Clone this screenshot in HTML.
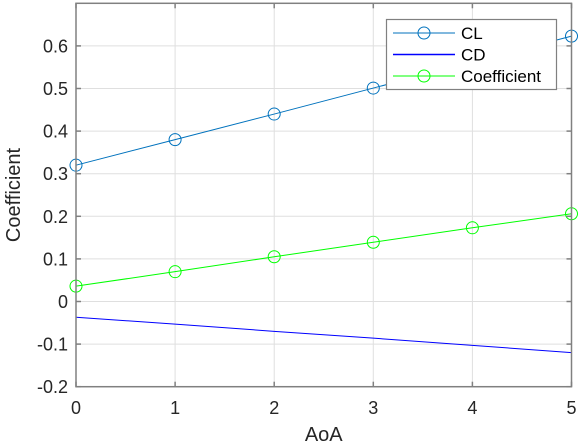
<!DOCTYPE html>
<html><head><meta charset="utf-8"><style>
html,body{margin:0;padding:0;background:#fff;}
svg{display:block;font-family:"Liberation Sans",Arial,sans-serif;}
</style></head><body>
<svg id="chart" width="580" height="443" viewBox="0 0 580 443"></svg>
<script>
const aoa = [0,1,2,3,4,5];
const clValues = [0.32,0.38,0.44,0.501,0.562,0.623];
const cdValues = [-0.037,-0.053,-0.070,-0.086,-0.103,-0.120];
const coefValues = [0.036,0.070,0.105,0.139,0.173,0.206];
const xTicks = [0,1,2,3,4,5];
const yTicks = [-0.2,-0.1,0,0.1,0.2,0.3,0.4,0.5,0.6];
const yTickLabels = ["-0.2","-0.1","0","0.1","0.2","0.3","0.4","0.5","0.6"];

const L=76,R=571.5,T=3.3,B=386.7,xmin=0,xmax=5,ymin=-0.2,ymax=0.7;
const sx=v=>L+(v-xmin)/(xmax-xmin)*(R-L);
const sy=v=>B-(v-ymin)/(ymax-ymin)*(B-T);
const NS="http://www.w3.org/2000/svg";
const svg=document.getElementById('chart');
function mk(tag,attrs,parent){const e=document.createElementNS(NS,tag);for(const k in attrs)e.setAttribute(k,attrs[k]);(parent||svg).appendChild(e);return e;}

const bg=mk('rect',{x:L,y:T,width:R-L,height:B-T,fill:'#fff'});



const grid=mk('g',{stroke:'#dfdfdf','stroke-width':1});


xTicks.forEach(v=>{mk('line',{x1:sx(v),x2:sx(v),y1:T,y2:B},grid);});
yTicks.forEach(v=>{mk('line',{x1:L,x2:R,y1:sy(v),y2:sy(v)},grid);});

function series(vals,color,name,markers){
  const g=mk('g',{});
  
  
  const p=mk('polyline',{points:aoa.map((x,i)=>sx(x)+','+sy(vals[i])).join(' '),fill:'none',stroke:color,'stroke-width':1},g);
  
  
  if(markers) aoa.forEach((x,i)=>{
    const c=mk('circle',{cx:sx(x),cy:sy(vals[i]),r:6,fill:'none',stroke:color,'stroke-width':1},g);
    
    
  });
}
series(clValues,'#0072BD','cl',true);
series(cdValues,'#0000FF','cd',false);
series(coefValues,'#00FF00','coefficient',true);

const ax=mk('g',{stroke:'#808080','stroke-width':1.5,fill:'none'});


mk('rect',{x:L,y:T,width:R-L,height:B-T},ax);
xTicks.forEach(v=>{mk('line',{x1:sx(v),x2:sx(v),y1:B,y2:B-5},ax);mk('line',{x1:sx(v),x2:sx(v),y1:T,y2:T+5},ax);});
yTicks.forEach(v=>{mk('line',{x1:L,x2:L+5,y1:sy(v),y2:sy(v)},ax);mk('line',{x1:R,x2:R-5,y1:sy(v),y2:sy(v)},ax);});

xTicks.forEach(v=>{
  const t=mk('text',{x:sx(v),y:414,'text-anchor':'middle','font-size':18,fill:'#262626'});
  t.textContent=String(v);
  
  
});
yTicks.forEach((v,i)=>{
  const t=mk('text',{x:L-8,y:sy(v)+6.5,'text-anchor':'end','font-size':18,fill:'#262626'});
  t.textContent=yTickLabels[i];
  
  
});
const xt=mk('text',{x:(L+R)/2,y:441,'text-anchor':'middle','font-size':20,fill:'#262626'});
xt.textContent='AoA';


const yt=mk('text',{x:0,y:0,'text-anchor':'middle','font-size':20,fill:'#262626',transform:'translate(20,'+((T+B)/2)+') rotate(-90)'});
yt.textContent='Coefficient';



const lg=mk('g',{});


mk('rect',{x:386.5,y:19.5,width:170,height:70,fill:'#fff',stroke:'#808080','stroke-width':1.2},lg);
const entries=[['CL','#0072BD',true],['CD','#0000FF',false],['Coefficient','#00FF00',true]];
entries.forEach((e,i)=>{
  const y=33+i*21.5;
  const eg=mk('g',{},lg);
  
  
  mk('line',{x1:393,x2:455,y1:y,y2:y,stroke:e[1],'stroke-width':e[2]?1:1.5},eg);
  if(e[2]) mk('circle',{cx:424,cy:y,r:6,fill:'none',stroke:e[1]},eg);
  const t=mk('text',{x:461,y:y+6,'font-size':17,fill:'#000'},eg);
  t.textContent=e[0];
});
</script>
</body></html>
